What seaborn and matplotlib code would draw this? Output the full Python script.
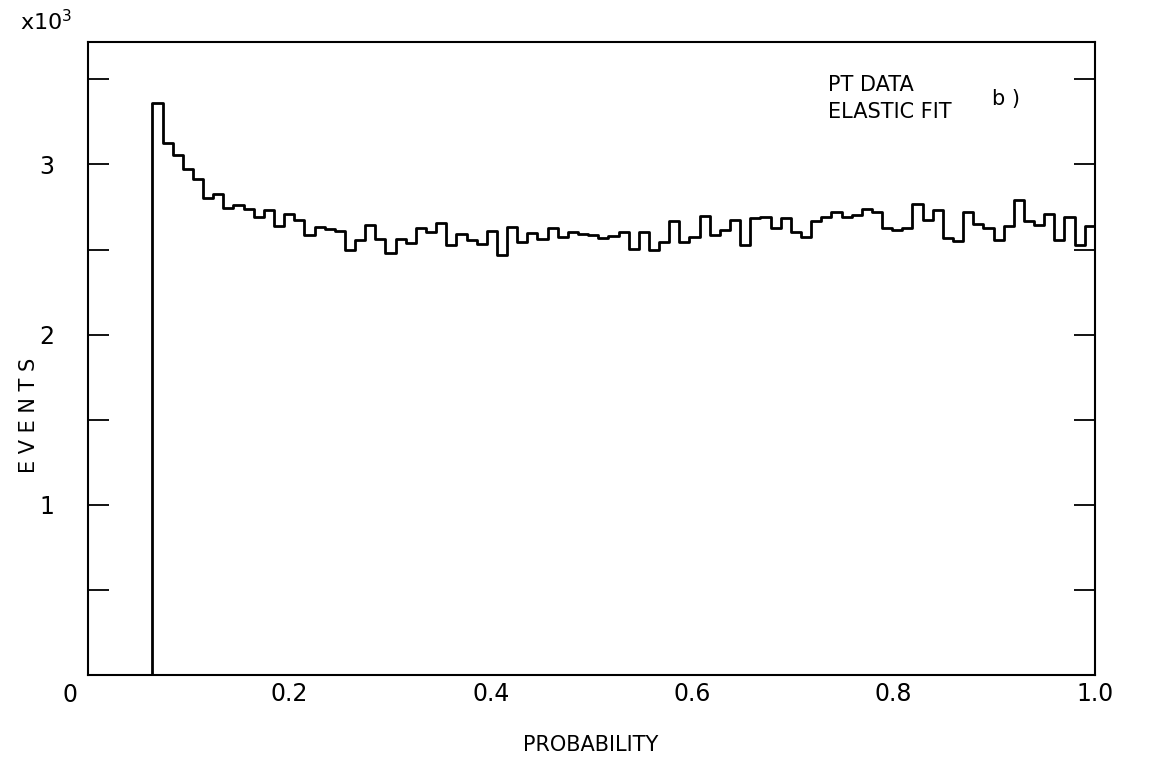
import numpy as np
import pandas as pd
import matplotlib
matplotlib.use('Agg')
import matplotlib.pyplot as plt
import seaborn as sns

# histogram: bins of equal width from bin_lo up to 1.0, counts
bin_lo = 0.064
bin_hi = 1.0
counts = [3359, 3124, 3053, 2971, 2916, 2802, 2829, 2747, 2763, 2741,
          2692, 2731, 2637, 2708, 2676, 2588, 2633, 2619, 2610, 2496,
          2555, 2647, 2565, 2480, 2561, 2541, 2624, 2604, 2659, 2529,
          2594, 2555, 2535, 2608, 2467, 2633, 2545, 2598, 2565, 2627,
          2575, 2604, 2590, 2584, 2569, 2580, 2604, 2506, 2604, 2500,
          2545, 2669, 2545, 2575, 2698, 2584, 2614, 2673, 2525, 2686,
          2690, 2627, 2686, 2604, 2575, 2669, 2690, 2718, 2690, 2702,
          2741, 2722, 2629, 2614, 2627, 2767, 2673, 2735, 2569, 2549,
          2722, 2653, 2624, 2555, 2637, 2790, 2667, 2647, 2708, 2559,
          2692, 2529, 2637]

x_ticks = [0.2, 0.4, 0.6, 0.8, 1.0]
x_ticklabels = ['0.2', '0.4', '0.6', '0.8', '1.0']
y_major = [1000, 2000, 3000]
y_major_labels = ['1', '2', '3']
y_minor = [500, 1500, 2500, 3500]

edges = np.linspace(bin_lo, bin_hi, len(counts) + 1)
df = pd.DataFrame({'prob': (edges[:-1] + edges[1:]) / 2, 'events': counts})

sns.set_style('white')
plt.rcParams['font.family'] = ['DejaVu Sans']
plt.rcParams['text.color'] = 'black'
plt.rcParams['xtick.color'] = 'black'
plt.rcParams['ytick.color'] = 'black'
plt.rcParams['axes.labelcolor'] = 'black'

fig = plt.figure(figsize=(11.56, 7.6), dpi=100)
ax = fig.add_axes([0.0761, 0.1118, 0.871, 0.833])

sns.histplot(data=df, x='prob', weights='events', bins=list(edges),
             element='step', fill=False, color='black', linewidth=2.0, ax=ax)
# rising edge of the first bin from the axis
ax.vlines(edges[0], 0, counts[0], color='black', linewidth=2.0)

ax.set_xlim(0, 1.0)
ax.set_ylim(0, 3720)

ax.set_xticks(x_ticks)
ax.set_xticklabels(x_ticklabels, fontsize=17)
ax.set_yticks(y_major)
ax.set_yticklabels(y_major_labels, fontsize=17)
ax.set_yticks(y_minor, minor=True)
ax.tick_params(axis='y', which='both', direction='in', length=15, width=1.3,
               left=True, right=True, pad=24)
ax.tick_params(axis='x', which='both', length=0, pad=5)

for s in ax.spines.values():
    s.set_linewidth(1.5)
    s.set_color('black')

ax.set_xlabel('PROBABILITY', fontsize=15)
ax.xaxis.set_label_coords(0.499, -0.095)
ax.set_ylabel('E V E N T S', fontsize=15)
ax.yaxis.set_label_coords(-0.049, 0.41)

ax.text(-0.018, -0.012, '0', transform=ax.transAxes, fontsize=17,
        ha='center', va='top')
ax.text(-0.068, 1.012, r'x$\mathregular{10^3}$', transform=ax.transAxes,
        fontsize=16, ha='left', va='bottom')
ax.text(0.735, 0.948, 'PT DATA', transform=ax.transAxes,
        fontsize=15, ha='left', va='top')
ax.text(0.735, 0.905, 'ELASTIC FIT', transform=ax.transAxes,
        fontsize=15, ha='left', va='top')
ax.text(0.898, 0.925, 'b )', transform=ax.transAxes, fontsize=15,
        ha='left', va='top')

fig.savefig('out.png', dpi=100)
